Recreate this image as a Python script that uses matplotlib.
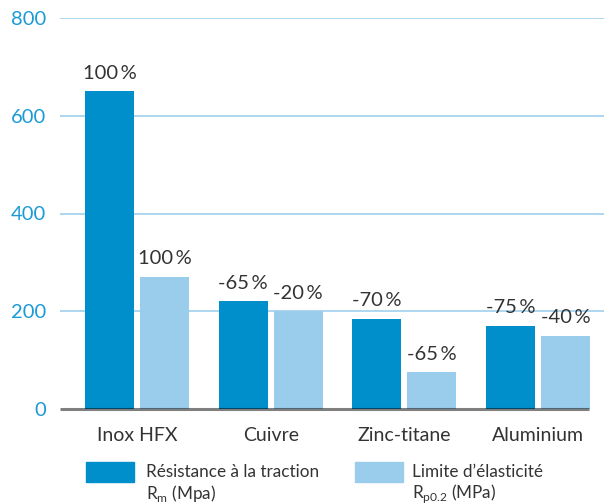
import numpy as np
import matplotlib
matplotlib.use("Agg")
import matplotlib.pyplot as plt
from matplotlib.patches import Rectangle

plt.rcParams['font.family'] = ['Lato', 'DejaVu Sans']
plt.rcParams['mathtext.fontset'] = 'custom'
plt.rcParams['mathtext.rm'] = 'Lato'

materials = ["Inox HFX", "Cuivre", "Zinc-titane", "Aluminium"]
tensile = [650, 220, 185, 170]          # Rm (MPa)
yield_strength = [270, 200, 75, 150]    # Rp0.2 (MPa)
tensile_labels = ["100\u2009%", "-65\u2009%", "-70\u2009%", "-75\u2009%"]
yield_labels = ["100\u2009%", "-20\u2009%", "-65\u2009%", "-40\u2009%"]
yticks = [0, 200, 400, 600, 800]

dark = "#008FCB"
light = "#9ACDEB"
grid_c = "#9FD0EC"
tick_c = "#1B9AD6"
text_c = "#333333"

fig = plt.figure(figsize=(6.04, 5.04), dpi=100)
ax = fig.add_axes([60/604, 1-409/504, 544/604, (409-18)/504])

x = np.arange(len(materials))
w = 0.367
off = 0.206
b1 = ax.bar(x - off, tensile, w, color=dark, zorder=2)
b2 = ax.bar(x + off, yield_strength, w, color=light, zorder=2)

for bars, labels in ((b1, tensile_labels), (b2, yield_labels)):
    for rect, lab in zip(bars, labels):
        ax.annotate(lab, (rect.get_x() + rect.get_width()/2, rect.get_height()),
                    xytext=(0, 7), textcoords="offset points", ha="center", va="bottom",
                    fontsize=14.5, color=text_c)

ax.set_xlim(-0.576, 3.494)
ax.set_ylim(0, 800)
ax.set_yticks(yticks)
ax.set_yticklabels([str(v) for v in yticks], color=tick_c, fontsize=14.5)
ax.set_xticks(x)
ax.set_xticklabels(materials, fontsize=14, color=text_c)
ax.tick_params(axis="both", length=0)
ax.tick_params(axis="y", pad=10)
ax.tick_params(axis="x", pad=13)
for s in ax.spines.values():
    s.set_visible(False)
for v in yticks[1:]:
    ax.axhline(v, color=grid_c, lw=1.2, zorder=1)
# baseline drawn over the bars
ax.plot([-0.576, 3.38], [0, 0], color="black", alpha=0.5, lw=2.2, zorder=3,
        clip_on=False, solid_capstyle="butt")

# legend
def px(xp, yp):
    return xp/604, 1 - yp/504

fig.patches.append(Rectangle(px(86, 482), 48/604, 20/504, color=dark,
                             transform=fig.transFigure, figure=fig))
fig.patches.append(Rectangle(px(355, 482), 48/604, 20/504, color=light,
                             transform=fig.transFigure, figure=fig))
kw = dict(fontsize=12.3, color=text_c, va="center")
fig.text(*px(146, 472), "Résistance à la traction", **kw)
fig.text(*px(146, 494), r"R$_\mathregular{m}$ (Mpa)", **kw)
fig.text(*px(412, 472), "Limite d\u2019élasticité", **kw)
fig.text(*px(412, 494), r"R$_\mathregular{p0.2}$ (MPa)", **kw)

fig.savefig("out.png", dpi=100)
